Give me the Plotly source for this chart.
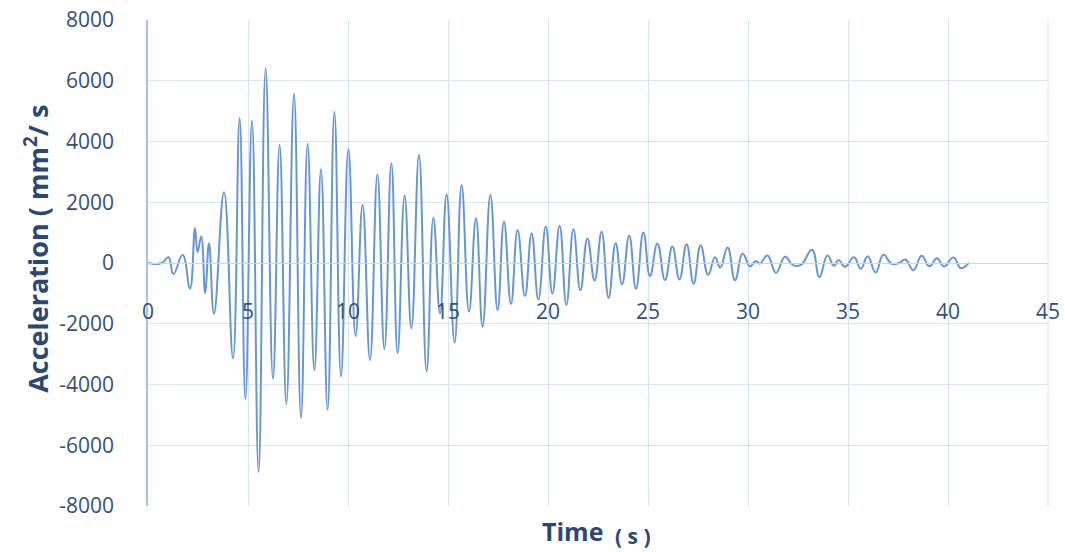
import plotly.graph_objects as go

# Recorded ground acceleration: successive peaks and troughs of the record
time_s = [
    0.0, 0.7, 1.02, 1.27, 1.73, 2.1, 2.35, 2.48, 2.66, 2.86, 3.05, 3.3, 3.8,
    4.25, 4.58, 4.87, 5.2, 5.53, 5.88, 6.25, 6.58, 6.92, 7.3, 7.65, 7.98,
    8.32, 8.65, 8.98, 9.32, 9.65, 10.02, 10.38, 10.73, 11.1, 11.47, 11.82,
    12.17, 12.48, 12.83, 13.17, 13.55, 13.93, 14.27, 14.6, 14.93, 15.33,
    15.68, 16.05, 16.4, 16.73, 17.12, 17.48, 17.8, 18.15, 18.48, 18.85,
    19.18, 19.52, 19.89, 20.22, 20.58, 20.92, 21.27, 21.62, 21.97, 22.33,
    22.68, 23.03, 23.38, 23.7, 24.06, 24.4, 24.77, 25.1, 25.47, 25.85,
    26.22, 26.57, 26.93, 27.28, 27.63, 28.01, 28.35, 28.61, 28.98, 29.35,
    29.73, 30.1, 30.38, 30.6, 30.97, 31.4, 31.85, 32.25, 32.65, 33.2,
    33.57, 33.97, 34.3, 34.53, 34.85, 35.3, 35.64, 35.98, 36.38, 36.77,
    37.18, 37.55, 37.87, 38.27, 38.68, 39.07, 39.45, 39.8, 40.27, 40.65,
    41.05,
]
acceleration = [
    0, 0, 190, -360, 260, -840, 1140, 360, 870, -990, 650, -1670, 2330,
    -3140, 4770, -4480, 4690, -6880, 6400, -3820, 3890, -4650, 5570, -5100, 3930,
    -3540, 3090, -4830, 4980, -3740, 3750, -2400, 1920, -3190, 2910, -2840,
    3280, -2970, 2220, -2150, 3560, -3570, 1490, -1660, 2260, -2620,
    2570, -1600, 1470, -2100, 2240, -1550, 1360, -1350, 1090, -1090,
    980, -1200, 1200, -1000, 1230, -1380, 1110, -900, 810, -580,
    1025, -1150, 650, -700, 900, -850, 1005, -430, 640, -560,
    540, -540, 620, -680, 575, -390, 190, -150, 510, -565,
    315, -115, 65, -15, 250, -325, 205, -70, -60, 435,
    -465, 250, -90, 95, -125, 190, -190, 225, -310, 270,
    -25, 0, 115, -235, 235, -105, 160, -115, 180, -170,
    10,
]

x_ticks = list(range(0, 46, 5))
y_ticks = list(range(-8000, 8001, 2000))

tick_color = "#34507A"
title_color = "#2C4872"
grid_color = "#D9E4F3"
font_family = "Open Sans, sans-serif"

fig = go.Figure()
fig.add_trace(go.Scatter(
    x=time_s,
    y=acceleration,
    mode="lines",
    line=dict(color="#6896CF", width=2.0, shape="spline", smoothing=1.3),
    hoverinfo="x+y",
    showlegend=False,
))

fig.update_layout(
    width=1065,
    height=552,
    margin=dict(l=148, r=17, t=20, b=46),
    paper_bgcolor="white",
    plot_bgcolor="white",
    font=dict(family=font_family, color=tick_color),
    xaxis=dict(
        range=[0, 45],
        tickvals=x_ticks,
        ticktext=[str(v) for v in x_ticks],
        showgrid=True,
        gridcolor=grid_color,
        gridwidth=1,
        zeroline=False,
        showline=True,
        linecolor="#C5D6EE",
        linewidth=1,
        anchor="free",
        position=0.5,
        ticks="",
        ticklabelstandoff=30,
        automargin=False,
        tickfont=dict(size=21, color=tick_color, family=font_family),
        fixedrange=True,
    ),
    yaxis=dict(
        range=[-8000, 8000],
        tickvals=y_ticks,
        ticktext=[str(v) for v in y_ticks],
        showgrid=True,
        gridcolor=grid_color,
        gridwidth=1,
        zeroline=False,
        showline=True,
        linecolor="#A8C2E6",
        linewidth=1.5,
        ticks="",
        ticklabelstandoff=28,
        automargin=False,
        tickfont=dict(size=21, color=tick_color, family=font_family),
        fixedrange=True,
    ),
    shapes=[
        dict(type="line", xref="paper", yref="paper", x0=1, x1=1, y0=0, y1=1,
             line=dict(color=grid_color, width=1)),
    ],
    annotations=[
        dict(
            text="<b>Acceleration ( mm<sup>2</sup>/ s</b>",
            xref="paper", yref="paper",
            x=-0.124, y=0.53,
            xanchor="center", yanchor="middle",
            textangle=-90,
            showarrow=False,
            font=dict(size=27, color=title_color, family=font_family),
        ),
        dict(
            text="<b>Time</b>",
            xref="paper", yref="paper",
            x=(572 - 148) / 900, y=(506 - 531) / 486,
            xanchor="center", yanchor="middle",
            showarrow=False,
            font=dict(size=25, color=title_color, family=font_family),
        ),
        dict(
            text="<b>( s )</b>",
            xref="paper", yref="paper",
            x=(633 - 148) / 900, y=(506 - 536) / 486,
            xanchor="center", yanchor="middle",
            showarrow=False,
            font=dict(size=21, color=title_color, family=font_family),
        ),
    ],
)

fig.write_html("out.html")
